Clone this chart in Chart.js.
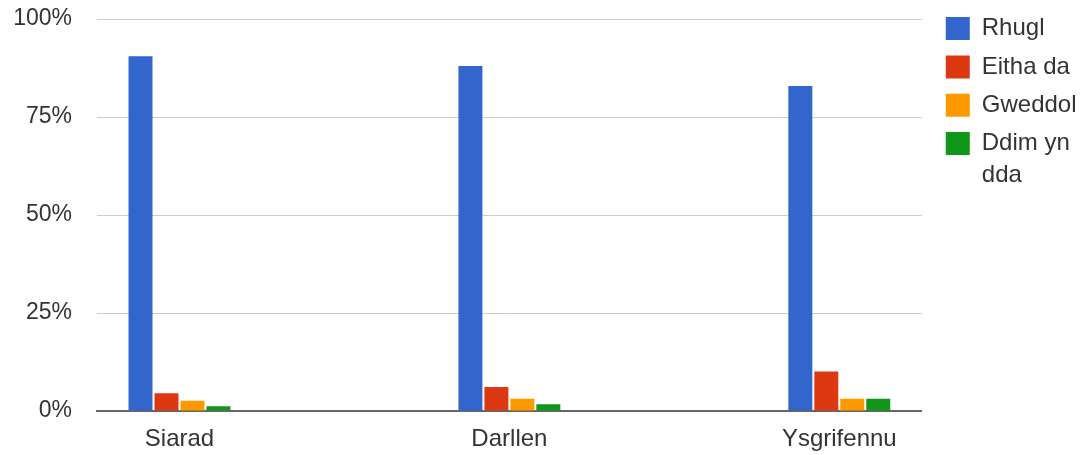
<!DOCTYPE html>
<html>
<head>
<meta charset="utf-8">
<script src="https://cdn.jsdelivr.net/npm/chart.js@4"></script>
<style>
html, body { margin: 0; padding: 0; background: #ffffff; }
#wrap { width: 1083px; height: 455px; }
</style>
</head>
<body>
<div id="wrap"><canvas id="c" width="1083" height="455"></canvas></div>
<script>
// ---- data ----
const categories = ['Siarad', 'Darllen', 'Ysgrifennu'];
const seriesNames = ['Rhugl', 'Eitha da', 'Gweddol', 'Ddim yn dda'];
const rhugl = [90.5, 88.0, 82.9];
const eithaDa = [4.5, 6.1, 10.1];
const gweddol = [2.6, 3.1, 3.1];
const ddimYnDda = [1.2, 1.7, 3.1];
const yTickLabels = ['0%', '25%', '50%', '75%', '100%'];
const seriesColors = ['#3366cc', '#dc3912', '#ff9900', '#109618'];

const FONT = "'Liberation Sans', Arial, sans-serif";
const TEXT = '#333333';

function toPoints(arr) { return arr.map((v, i) => ({ x: i, y: v })); }
function wrapLabel(s, maxChars) {
  const words = s.split(' ');
  const lines = [];
  let cur = '';
  words.forEach(w => {
    const t = cur ? cur + ' ' + w : w;
    if (t.length > maxChars && cur) { lines.push(cur); cur = w; } else { cur = t; }
  });
  if (cur) lines.push(cur);
  return lines.length > 1 ? lines : lines[0];
}

const seriesValues = [rhugl, eithaDa, gweddol, ddimYnDda];

new Chart(document.getElementById('c'), {
  type: 'bar',
  data: {
    datasets: seriesValues.map((vals, i) => ({
      label: seriesNames[i],
      data: toPoints(vals),
      backgroundColor: seriesColors[i],
      borderWidth: 0,
      categoryPercentage: 0.315,
      barPercentage: 0.923
    }))
  },
  options: {
    responsive: false,
    animation: false,
    devicePixelRatio: 1,
    layout: { padding: { top: 2.3, right: -3.5, bottom: 0, left: 0 } },
    plugins: {
      tooltip: { enabled: false },
      legend: {
        position: 'right',
        align: 'start',
        labels: {
          boxWidth: 24,
          boxHeight: 23,
          padding: 14.3,
          color: TEXT,
          font: { family: FONT, size: 24, lineHeight: '32px' },
          generateLabels: chart => chart.data.datasets.map((ds, i) => ({
            text: wrapLabel(ds.label, 8),
            fillStyle: ds.backgroundColor,
            strokeStyle: ds.backgroundColor,
            lineWidth: 0,
            hidden: false,
            fontColor: TEXT,
            datasetIndex: i
          }))
        }
      }
    },
    scales: {
      x: {
        type: 'linear',
        offset: false,
        min: -0.25,
        max: 2.25,
        grid: { display: false },
        border: { display: true, color: '#666666', width: 2 },
        ticks: {
          padding: 6,
          color: TEXT,
          font: { family: FONT, size: 24 },
          maxRotation: 0,
          autoSkip: false,
          callback: v => categories[v]
        },
        afterBuildTicks: s => { s.ticks = categories.map((_, i) => ({ value: i })); },
        afterFit: s => { s.height = 44; }
      },
      y: {
        min: 0,
        max: 100,
        ticks: {
          stepSize: 25,
          padding: 0,
          color: TEXT,
          font: { family: FONT, size: 23, lineHeight: '38px' },
          callback: (v, i) => yTickLabels[i]
        },
        grid: { color: '#cccccc', lineWidth: 1, drawTicks: true, tickLength: 25, tickColor: 'rgba(0,0,0,0)' },
        border: { display: false },
        afterFit: s => { s.width = 97; }
      },
      yGap: {
        type: 'linear',
        position: 'right',
        display: true,
        grid: { display: false },
        border: { display: false },
        ticks: { display: false },
        afterFit: s => { s.width = 9.7; }
      }
    }
  }
});
</script>
</body>
</html>
